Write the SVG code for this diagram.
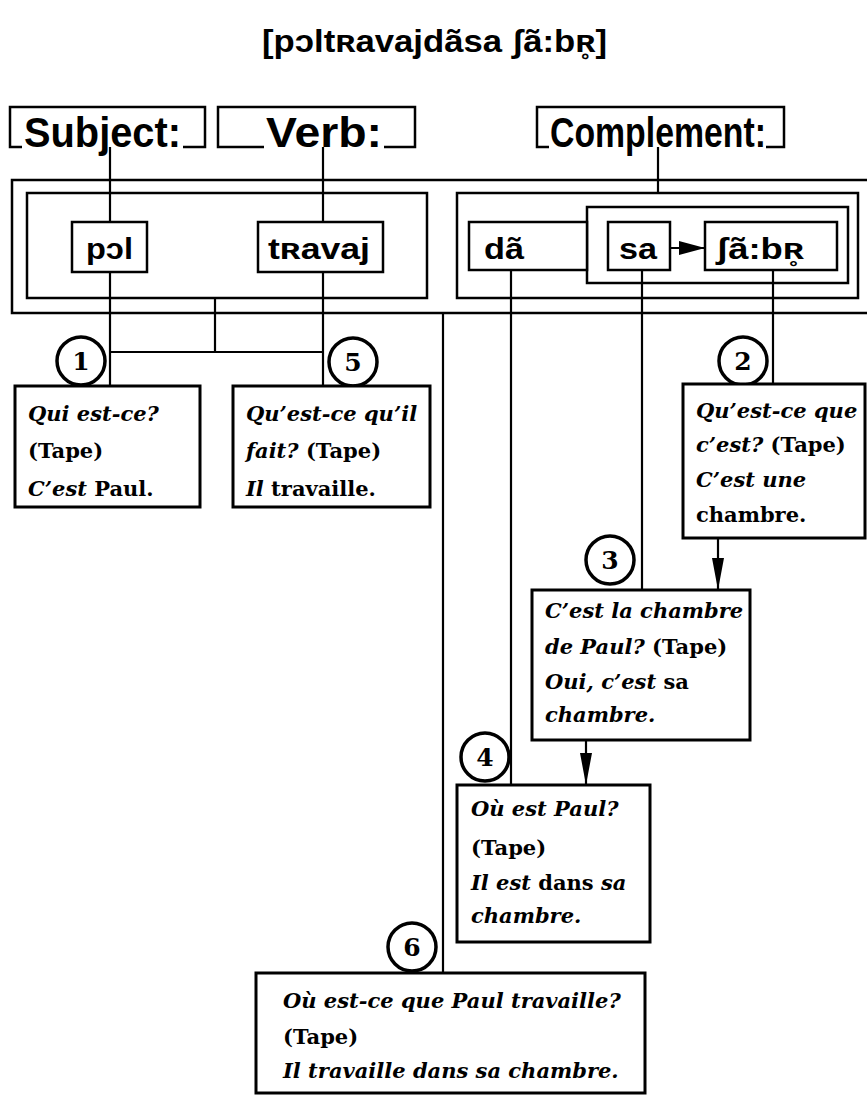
<svg xmlns="http://www.w3.org/2000/svg" width="867" height="1095" viewBox="0 0 867 1095">
<defs>
<marker id="ah" viewBox="0 0 26 14" refX="26" refY="7" markerWidth="26" markerHeight="14" markerUnits="userSpaceOnUse" orient="auto">
<path d="M0,0 L26,7 L0,14 Z" fill="#000"/>
</marker>
<marker id="ahl" viewBox="0 0 12 32" refX="6" refY="32" markerWidth="12" markerHeight="32" markerUnits="userSpaceOnUse" orient="0">
<path d="M0,0 L12,0 L6,32 Z" fill="#000"/>
</marker>
</defs>
<style>
.frame{fill:none;stroke:#000;stroke-width:2.5}
.wbox{fill:#fff;stroke:#000;stroke-width:2.5}
.tbox{fill:#fff;stroke:#000;stroke-width:3}
.conn{fill:none;stroke:#000;stroke-width:2.2}
.circ{fill:#fff;stroke:#000;stroke-width:3.5}
.num{font-family:"DejaVu Serif",serif;font-weight:bold;font-size:25px;text-anchor:middle}
.lab{font-family:"Liberation Sans",sans-serif;font-weight:bold;font-size:42px}
.ipa{font-family:"Liberation Sans","DejaVu Sans",sans-serif;font-weight:bold;font-size:30px}
.title{font-family:"Liberation Sans","DejaVu Sans",sans-serif;font-weight:bold;font-size:32px}
.t{font-family:"DejaVu Serif",serif;font-weight:bold;font-size:21px}
.i{font-style:italic}
</style>
<rect width="867" height="1095" fill="#fff"/>
<text class="title" x="262" y="52" textLength="345" lengthAdjust="spacingAndGlyphs">[pɔltʀavajdãsa ʃã:bʀ̥]</text>

<g id="connectors">
<line class="conn" x1="110" y1="147" x2="110" y2="386"/>
<line class="conn" x1="323" y1="147" x2="323" y2="386"/>
<line class="conn" x1="658" y1="147" x2="658" y2="193"/>
<line class="conn" x1="215" y1="298" x2="215" y2="352"/>
<line class="conn" x1="110" y1="352" x2="323" y2="352"/>
<line class="conn" x1="511" y1="270" x2="511" y2="785"/>
<line class="conn" x1="642" y1="270" x2="642" y2="590"/>
<line class="conn" x1="773" y1="270" x2="773" y2="384"/>
<line class="conn" x1="443" y1="313" x2="443" y2="973"/>
<line class="conn" x1="670" y1="248" x2="705" y2="248" marker-end="url(#ah)"/>
<line class="conn" x1="718" y1="538" x2="718" y2="590" marker-end="url(#ahl)"/>
<line class="conn" x1="586" y1="740" x2="586" y2="785" marker-end="url(#ahl)"/>
</g>

<g id="frames">
<rect class="frame" x="12" y="180" width="870" height="133"/>
<rect class="frame" x="27" y="193" width="400" height="105"/>
<rect class="frame" x="457" y="193" width="401" height="105"/>
<rect class="frame" x="587" y="207" width="261" height="76"/>
</g>

<g id="label-subject">
<path class="frame" stroke-width="3" d="M22,147 H10 V107 H205 V147 H183"/>
<text class="lab" x="24" y="147" textLength="157" lengthAdjust="spacingAndGlyphs">Subject:</text>
</g>
<g id="label-verb">
<path class="frame" stroke-width="3" d="M264,147 H218 V107 H415 V147 H384"/>
<text class="lab" x="266" y="147" textLength="116" lengthAdjust="spacingAndGlyphs">Verb:</text>
</g>
<g id="label-complement">
<path class="frame" stroke-width="3" d="M549,147 H537 V107 H784 V147 H766"/>
<text class="lab" x="550" y="147" textLength="216" lengthAdjust="spacingAndGlyphs">Complement:</text>
</g>

<g id="w-pol"><rect class="wbox" x="72" y="222" width="75" height="50"/><text class="ipa" x="86" y="259" textLength="47" lengthAdjust="spacingAndGlyphs">pɔl</text></g>
<g id="w-travaj"><rect class="wbox" x="258" y="222" width="125" height="50"/><text class="ipa" x="268" y="259" textLength="102" lengthAdjust="spacingAndGlyphs">tʀavaj</text></g>
<g id="w-da"><rect class="wbox" x="469" y="222" width="118" height="48"/><text class="ipa" x="484" y="259" textLength="40" lengthAdjust="spacingAndGlyphs">dã</text></g>
<g id="w-sa"><rect class="wbox" x="608" y="222" width="62" height="48"/><text class="ipa" x="619" y="259" textLength="38" lengthAdjust="spacingAndGlyphs">sa</text></g>
<g id="w-chambre"><rect class="wbox" x="705" y="222" width="132" height="48"/><text class="ipa" x="716" y="259" textLength="88" lengthAdjust="spacingAndGlyphs">ʃã:bʀ̥</text></g>

<g id="q1">
<circle class="circ" cx="81" cy="361" r="24"/><text class="num" x="81" y="370">1</text>
<rect class="tbox" x="15" y="386" width="185" height="121"/>
<text class="t" x="28" y="421"><tspan class="i">Qui est-ce?</tspan></text>
<text class="t" x="28" y="458">(Tape)</text>
<text class="t" x="28" y="496"><tspan class="i">C’est</tspan> Paul.</text>
</g>

<g id="q5">
<circle class="circ" cx="353" cy="362" r="24"/><text class="num" x="353" y="371">5</text>
<rect class="tbox" x="233" y="386" width="197" height="121"/>
<text class="t" x="246" y="421"><tspan class="i">Qu’est-ce qu’il</tspan></text>
<text class="t" x="246" y="458"><tspan class="i">fait?</tspan> (Tape)</text>
<text class="t" x="246" y="496"><tspan class="i">Il</tspan> travaille.</text>
</g>

<g id="q2">
<circle class="circ" cx="743" cy="361" r="24"/><text class="num" x="743" y="370">2</text>
<rect class="tbox" x="683" y="384" width="182" height="154"/>
<text class="t" x="696" y="418"><tspan class="i">Qu’est-ce que</tspan></text>
<text class="t" x="696" y="452"><tspan class="i">c’est?</tspan> (Tape)</text>
<text class="t" x="696" y="487"><tspan class="i">C’est une</tspan></text>
<text class="t" x="696" y="522">chambre.</text>
</g>

<g id="q3">
<circle class="circ" cx="610" cy="560" r="24"/><text class="num" x="610" y="569">3</text>
<rect class="tbox" x="532" y="590" width="218" height="150"/>
<text class="t" x="545" y="618"><tspan class="i">C’est la chambre</tspan></text>
<text class="t" x="545" y="654"><tspan class="i">de Paul?</tspan> (Tape)</text>
<text class="t" x="545" y="689"><tspan class="i">Oui, c’est</tspan> sa</text>
<text class="t" x="545" y="722"><tspan class="i">chambre.</tspan></text>
</g>

<g id="q4">
<circle class="circ" cx="485" cy="757" r="24"/><text class="num" x="485" y="766">4</text>
<rect class="tbox" x="457" y="785" width="193" height="157"/>
<text class="t" x="471" y="816"><tspan class="i">Où est Paul?</tspan></text>
<text class="t" x="471" y="855">(Tape)</text>
<text class="t" x="471" y="890"><tspan class="i">Il est</tspan> dans <tspan class="i">sa</tspan></text>
<text class="t" x="471" y="923"><tspan class="i">chambre.</tspan></text>
</g>

<g id="q6">
<circle class="circ" cx="412" cy="947" r="24"/><text class="num" x="412" y="956">6</text>
<rect class="tbox" x="256" y="973" width="389" height="120"/>
<text class="t" x="283" y="1008"><tspan class="i">Où est-ce que Paul travaille?</tspan></text>
<text class="t" x="283" y="1044">(Tape)</text>
<text class="t" x="283" y="1078"><tspan class="i">Il travaille dans sa chambre.</tspan></text>
</g>
</svg>
